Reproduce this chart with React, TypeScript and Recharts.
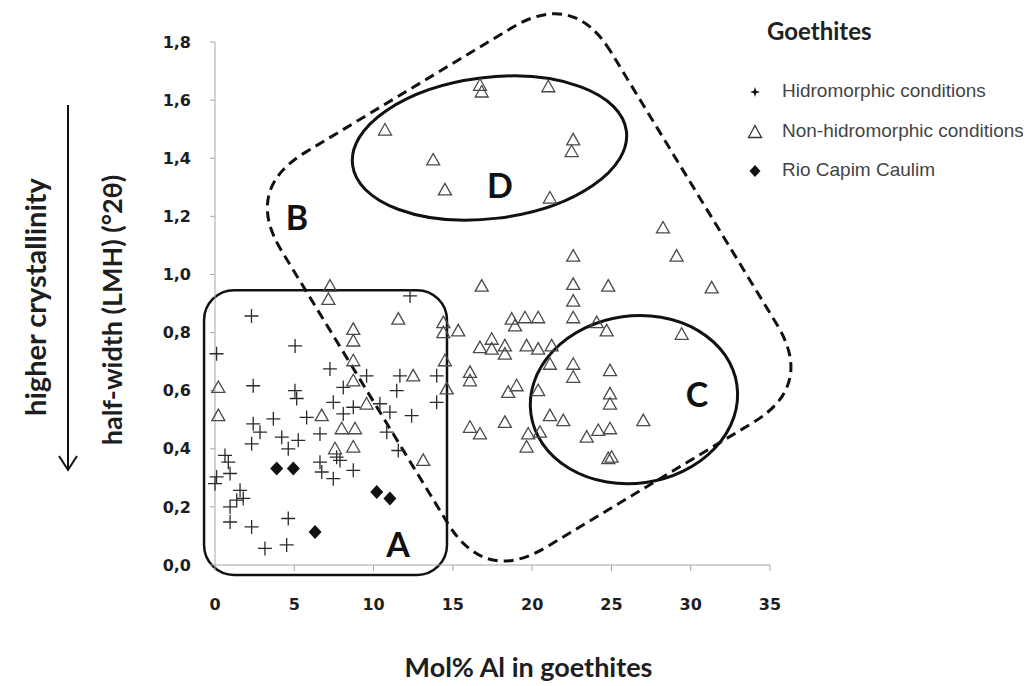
import React from 'react';
import { ScatterChart, Scatter, XAxis, YAxis, ReferenceArea, ReferenceDot } from 'recharts';

// Hidromorphic conditions (+)
const hidroX = [12.3, 2.3, 5.05, 0.1, 7.25, 9.56, 11.66, 13.98, 2.41, 5.04, 8.09, 11.46, 5.15, 7.46, 8.72, 10.4, 13.98, 11.03, 12.4, 5.78, 8.09, 3.68, 2.41, 2.84, 4.21, 5.25, 6.62, 10.83, 2.31, 4.62, 11.56, 0.63, 0.84, 6.62, 7.67, 7.88, 6.73, 7.46, 8.72, 0.1, 0.0, 0.95, 1.58, 1.78, 1.37, 0.95, 0.95, 2.31, 4.62, 3.15, 4.52];
const hidroY = [0.926, 0.857, 0.754, 0.727, 0.675, 0.651, 0.651, 0.651, 0.617, 0.6, 0.611, 0.6, 0.573, 0.56, 0.543, 0.555, 0.56, 0.526, 0.514, 0.508, 0.52, 0.503, 0.486, 0.457, 0.44, 0.429, 0.451, 0.457, 0.417, 0.4, 0.394, 0.377, 0.354, 0.354, 0.371, 0.36, 0.32, 0.297, 0.326, 0.303, 0.28, 0.315, 0.257, 0.229, 0.223, 0.2, 0.148, 0.131, 0.16, 0.057, 0.069];

// Non-hidromorphic conditions (triangles)
const nonHidroX = [7.25, 7.15, 11.56, 14.4, 14.4, 8.72, 8.72, 8.72, 14.5, 12.5, 0.21, 8.72, 14.61, 9.56, 0.21, 6.73, 7.99, 8.83, 8.72, 7.57, 13.13,
  28.25, 22.59, 29.11, 16.82, 22.59, 24.8, 31.32, 22.59, 22.59, 18.71, 19.55, 20.38, 18.92, 15.34, 24.07, 24.7, 29.43, 16.71, 17.45, 17.45, 18.28, 18.28, 19.65, 20.38, 21.23, 21.12, 22.59, 22.59, 24.91, 16.08, 16.08, 18.49, 19.02, 20.38, 24.91, 24.91, 21.12, 21.96, 27.01, 16.08, 16.71, 18.28, 19.75, 19.65, 20.49, 23.44, 24.17, 24.91, 24.8, 25.01,
  16.71, 16.82, 21.02, 10.72, 22.59, 22.49, 13.76, 14.5, 21.12];
const nonHidroY = [0.96, 0.914, 0.846, 0.834, 0.8, 0.811, 0.771, 0.703, 0.703, 0.651, 0.611, 0.634, 0.606, 0.554, 0.514, 0.514, 0.469, 0.469, 0.406, 0.4, 0.36,
  1.16, 1.063, 1.063, 0.96, 0.966, 0.96, 0.954, 0.908, 0.851, 0.846, 0.851, 0.851, 0.823, 0.806, 0.834, 0.806, 0.794, 0.748, 0.777, 0.743, 0.754, 0.726, 0.754, 0.743, 0.754, 0.691, 0.691, 0.646, 0.669, 0.663, 0.634, 0.594, 0.617, 0.6, 0.589, 0.554, 0.514, 0.497, 0.497, 0.474, 0.451, 0.491, 0.451, 0.406, 0.457, 0.44, 0.463, 0.469, 0.366, 0.371,
  1.651, 1.628, 1.646, 1.497, 1.463, 1.423, 1.394, 1.291, 1.263];

// Rio Capim Caulim (diamonds)
const capimX = [3.89, 4.94, 10.2, 11.03, 6.31];
const capimY = [0.332, 0.332, 0.251, 0.229, 0.114];

const xTicks = [0, 5, 10, 15, 20, 25, 30, 35];
const yTicks = [0, 0.2, 0.4, 0.6, 0.8, 1.0, 1.2, 1.4, 1.6, 1.8];

// grouping outlines drawn on the chart, in data units
const groupA = { x1: -0.69, x2: 14.63, y1: -0.034, y2: 0.946 };
const groupB = [[22.61, 1.977], [1.83, 1.293], [17.02, -0.066], [37.79, 0.617]];
const groupC = { cx: 26.42, cy: 0.569, rx: 6.56, ry: 0.288, tilt: -8 };
const groupD = { cx: 17.31, cy: 1.435, rx: 8.7, ry: 0.243, tilt: -7 };
const groupLetters = [
  { name: 'A', x: 11.54, y: 0.075 },
  { name: 'B', x: 5.17, y: 1.2 },
  { name: 'C', x: 30.4, y: 0.59 },
  { name: 'D', x: 17.97, y: 1.31 },
];

const toPoints = (xs: number[], ys: number[]) => xs.map((x, i) => ({ x, y: ys[i] }));

const Cross = (p: any) => (
  <path d={`M${p.cx - 7},${p.cy}H${p.cx + 7}M${p.cx},${p.cy - 7}V${p.cy + 7}`} stroke="#2b2b2b" strokeWidth={1.3} fill="none" />
);
const Triangle = (p: any) => (
  <path d={`M${p.cx},${p.cy - 6.5}L${p.cx + 6.5},${p.cy + 5}L${p.cx - 6.5},${p.cy + 5}Z`} stroke="#4a4a4a" strokeWidth={1.3} fill="none" />
);
const Diamond = (p: any) => (
  <path d={`M${p.cx},${p.cy - 7}L${p.cx + 6.5},${p.cy}L${p.cx},${p.cy + 7}L${p.cx - 6.5},${p.cy}Z`} fill="#111" />
);

const Ellipse = (g: typeof groupC) => (p: any) => {
  const cx = p.x + p.width / 2;
  const cy = p.y + p.height / 2;
  return (
    <ellipse cx={cx} cy={cy} rx={Math.abs(p.width) / 2} ry={Math.abs(p.height) / 2}
      transform={`rotate(${g.tilt} ${cx} ${cy})`} fill="none" stroke="#111" strokeWidth={3} />
  );
};

// rounded, dashed outline through the corner points of group B
const RoundedOutline = (p: any) => {
  const xs = groupB.map((c) => c[0]);
  const ys = groupB.map((c) => c[1]);
  const minX = Math.min(...xs), maxX = Math.max(...xs), minY = Math.min(...ys), maxY = Math.max(...ys);
  const pts = groupB.map(([dx, dy]) => [
    p.x + ((dx - minX) / (maxX - minX)) * p.width,
    p.y + ((maxY - dy) / (maxY - minY)) * p.height,
  ]);
  const r = 72;
  const toward = (a: number[], b: number[]) => {
    const len = Math.hypot(b[0] - a[0], b[1] - a[1]);
    return [a[0] + ((b[0] - a[0]) / len) * r, a[1] + ((b[1] - a[1]) / len) * r];
  };
  let d = '';
  pts.forEach((pt, i) => {
    const prev = pts[(i - 1 + pts.length) % pts.length];
    const next = pts[(i + 1) % pts.length];
    const a = toward(pt, prev);
    const b = toward(pt, next);
    d += `${i === 0 ? 'M' : 'L'}${a[0]},${a[1]} Q${pt[0]},${pt[1]} ${b[0]},${b[1]} `;
  });
  return <path d={d + 'Z'} fill="none" stroke="#111" strokeWidth={3} strokeDasharray="10 6" />;
};

const RoundedBox = (p: any) => (
  <rect x={p.x} y={p.y} width={p.width} height={p.height} rx={30} ry={30} fill="none" stroke="#111" strokeWidth={2.5} />
);

const legendItems = [
  { name: 'Hidromorphic conditions', mark: 'plus' },
  { name: 'Non-hidromorphic conditions', mark: 'tri' },
  { name: 'Rio Capim Caulim', mark: 'dia' },
];

const LegendMark = ({ mark }: { mark: string }) => (
  <svg width={18} height={18} style={{ position: 'absolute', left: -9, top: -9 }}>
    {mark === 'plus' && <path d="M9,4L10.2,7.8L14,9L10.2,10.2L9,14L7.8,10.2L4,9L7.8,7.8Z" fill="#111" />}
    {mark === 'tri' && <path d="M9,2.5L15.5,14.5L2.5,14.5Z" fill="none" stroke="#333" strokeWidth={1.3} />}
    {mark === 'dia' && <path d="M9,3L14.5,9L9,15L3.5,9Z" fill="#111" />}
  </svg>
);

const W = 1015;
const H = 678;

export default function App() {
  return (
    <div style={{ position: 'relative', width: W, height: H }}>
      <ScatterChart width={W} height={H} margin={{ top: 34, right: 253, left: 147, bottom: 61 }}>
        <XAxis
          type="number"
          dataKey="x"
          domain={[0, 35]}
          ticks={xTicks}
          interval={0}
          height={60}
          tickSize={6}
          tickMargin={28}
          stroke="#a5a5a5"
          tick={{ fill: '#1e1e1e', fontSize: 16, fontWeight: 700, fontFamily: 'DejaVu Sans' }}
          label={{
            content: ({ viewBox }: any) => (
              <text x={viewBox.x + viewBox.width / 2 + 36} y={viewBox.y + 112} textAnchor="middle"
                fontFamily="Lato" fontWeight={700} fontSize={27} fill="#1e1e1e">
                Mol% Al in goethites
              </text>
            ),
          }}
        />
        <YAxis
          type="number"
          dataKey="y"
          domain={[0, 1.8]}
          ticks={yTicks}
          interval={0}
          width={60}
          tickSize={5}
          tickMargin={19}
          stroke="#a5a5a5"
          tickFormatter={(v: number) => v.toFixed(1).replace('.', ',')}
          tick={{ fill: '#1e1e1e', fontSize: 16, fontWeight: 700, fontFamily: 'DejaVu Sans' }}
          label={{
            content: ({ viewBox }: any) => {
              const top = viewBox.y;
              const lx = viewBox.x - 44;
              const ly = top + 268;
              const hx = viewBox.x - 121;
              const hy = top + 255;
              const ax = viewBox.x - 87;
              return (
                <g>
                  <text x={lx} y={ly} transform={`rotate(-90 ${lx} ${ly})`} textAnchor="middle" dominantBaseline="central"
                    fontFamily="Lato" fontWeight={700} fontSize={27} fill="#1e1e1e">
                    half-width (LMH) (°2θ)
                  </text>
                  <text x={hx} y={hy} transform={`rotate(-90 ${hx} ${hy})`} textAnchor="middle"
                    dominantBaseline="central" fontFamily="Lato" fontWeight={700} fontSize={29} fill="#1e1e1e">
                    higher crystallinity
                  </text>
                  <path d={`M${ax},${top + 63}V${top + 428}M${ax - 9},${top + 414}L${ax},${top + 428}L${ax + 9},${top + 414}`}
                    stroke="#111" strokeWidth={2} fill="none" />
                </g>
              );
            },
          }}
        />
        <ReferenceArea x1={groupA.x1} x2={groupA.x2} y1={groupA.y1} y2={groupA.y2} ifOverflow="visible" shape={RoundedBox} />
        <ReferenceArea
          x1={Math.min(...groupB.map((c) => c[0]))}
          x2={Math.max(...groupB.map((c) => c[0]))}
          y1={Math.min(...groupB.map((c) => c[1]))}
          y2={Math.max(...groupB.map((c) => c[1]))}
          ifOverflow="visible"
          shape={RoundedOutline}
        />
        {[groupC, groupD].map((g, i) => (
          <ReferenceArea key={i} x1={g.cx - g.rx} x2={g.cx + g.rx} y1={g.cy - g.ry} y2={g.cy + g.ry} ifOverflow="visible" shape={Ellipse(g)} />
        ))}
        {groupLetters.map((l) => (
          <ReferenceDot key={l.name} x={l.x} y={l.y} ifOverflow="visible"
            shape={(p: any) => (
              <text x={p.cx} y={p.cy} textAnchor="middle" dominantBaseline="central" fontFamily="Lato" fontWeight={700} fontSize={34} fill="#111">
                {l.name}
              </text>
            )}
          />
        ))}
        <Scatter name="Hidromorphic conditions" data={toPoints(hidroX, hidroY)} shape={Cross} isAnimationActive={false} />
        <Scatter name="Non-hidromorphic conditions" data={toPoints(nonHidroX, nonHidroY)} shape={Triangle} isAnimationActive={false} />
        <Scatter name="Rio Capim Caulim" data={toPoints(capimX, capimY)} shape={Diamond} isAnimationActive={false} />
      </ScatterChart>
      <div style={{ position: 'absolute', left: 759, top: 8, fontFamily: 'Lato', fontWeight: 700, fontSize: 24, color: '#222' }}>
        Goethites
      </div>
      {legendItems.map((it, i) => (
        <div key={it.name} style={{ position: 'absolute', left: 747, top: 84 + i * 39.5, height: 0 }}>
          <LegendMark mark={it.mark} />
          <span style={{ position: 'absolute', left: 27, top: -12, whiteSpace: 'nowrap', fontFamily: 'Liberation Sans', fontSize: 19, color: '#444' }}>
            {it.name}
          </span>
        </div>
      ))}
    </div>
  );
}
